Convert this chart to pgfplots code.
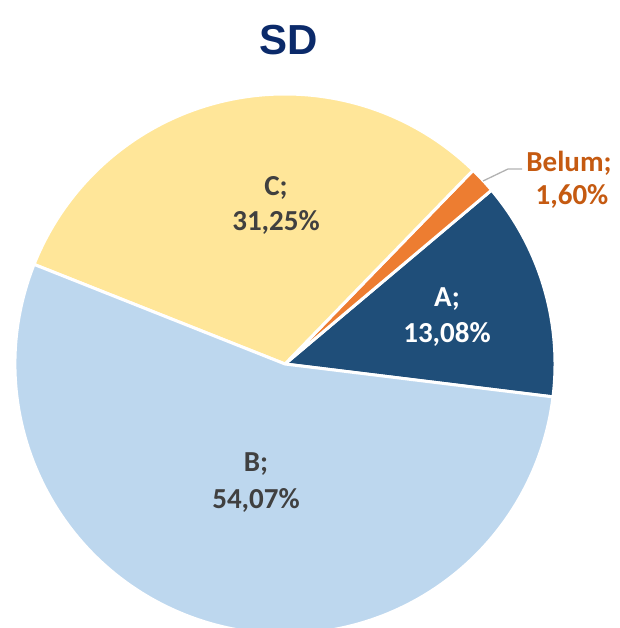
\documentclass[border=0pt]{standalone}
\usepackage{pgfplots}
\pgfplotsset{compat=1.18}
\usepackage{pgfplotstable}
\usepackage{fontspec}
\setmainfont{Carlito}
\newfontfamily\titlefont{Liberation Sans}
\definecolor{colA}{HTML}{1F4E79}
\definecolor{colB}{HTML}{BDD7EE}
\definecolor{colC}{HTML}{FFE699}
\definecolor{colBel}{HTML}{ED7D31}
\definecolor{labdark}{HTML}{404040}
\definecolor{labbel}{HTML}{C55A11}
\definecolor{titleblue}{HTML}{0B2A6A}
\pgfplotstableread{
label value
A 13.08
Belum 1.60
C 31.25
B 54.07
}\piedata
\begin{document}
\begin{tikzpicture}
\path[use as bounding box] (0,0) rectangle (619pt,628pt);
\pgfplotstablegetelem{0}{value}\of\piedata \let\vA\pgfplotsretval
\pgfplotstablegetelem{1}{value}\of\piedata \let\vBel\pgfplotsretval
\pgfplotstablegetelem{2}{value}\of\piedata \let\vC\pgfplotsretval
\pgfplotstablegetelem{3}{value}\of\piedata \let\vB\pgfplotsretval
\pgfmathsetmacro\aZero{-7}
\pgfmathsetmacro\aOne{\aZero+3.6*\vA}
\pgfmathsetmacro\aTwo{\aOne+3.6*\vBel}
\pgfmathsetmacro\aThree{\aTwo+3.6*\vC}
\pgfmathsetmacro\aFour{\aThree+3.6*\vB}
\def\cx{285}\def\cy{264}\def\R{270}
\begin{axis}[x=1pt,y=1pt,xmin=0,xmax=619,ymin=0,ymax=628,hide axis,at={(0,0)},anchor=south west]
\filldraw[fill=colA,draw=white,line width=3pt,line join=round] (axis cs:\cx,\cy) -- (axis cs:{\cx+\R*cos(\aZero)},{\cy+\R*sin(\aZero)}) arc[start angle=\aZero,end angle=\aOne,radius=\R pt] -- cycle;
\filldraw[fill=colBel,draw=white,line width=3pt,line join=round] (axis cs:\cx,\cy) -- (axis cs:{\cx+\R*cos(\aOne)},{\cy+\R*sin(\aOne)}) arc[start angle=\aOne,end angle=\aTwo,radius=\R pt] -- cycle;
\filldraw[fill=colC,draw=white,line width=3pt,line join=round] (axis cs:\cx,\cy) -- (axis cs:{\cx+\R*cos(\aTwo)},{\cy+\R*sin(\aTwo)}) arc[start angle=\aTwo,end angle=\aThree,radius=\R pt] -- cycle;
\filldraw[fill=colB,draw=white,line width=3pt,line join=round] (axis cs:\cx,\cy) -- (axis cs:{\cx+\R*cos(\aThree)},{\cy+\R*sin(\aThree)}) arc[start angle=\aThree,end angle=\aFour,radius=\R pt] -- cycle;
\draw[gray!60,line width=1.3pt] (axis cs:483,447) -- (axis cs:508,459) -- (axis cs:522,459);
\tikzset{lab/.style={anchor=base,inner sep=0pt,font=\fontsize{29}{34}\selectfont\bfseries}}
\node[lab,text=labdark] at (axis cs:276,432) {C;};
\node[lab,text=labdark] at (axis cs:276,397) {31,25\%};
\node[lab,text=white] at (axis cs:447,321) {A;};
\node[lab,text=white] at (axis cs:447,285) {13,08\%};
\node[lab,text=labdark] at (axis cs:256,156) {B;};
\node[lab,text=labdark] at (axis cs:256,119) {54,07\%};
\node[lab,text=labbel] at (axis cs:569,456) {Belum;};
\node[lab,text=labbel] at (axis cs:572,423) {1,60\%};
\node[anchor=base,inner sep=0pt,text=titleblue,font=\titlefont\fontsize{42}{48}\selectfont\bfseries] at (axis cs:289,573) {SD};
\end{axis}
\end{tikzpicture}
\end{document}
